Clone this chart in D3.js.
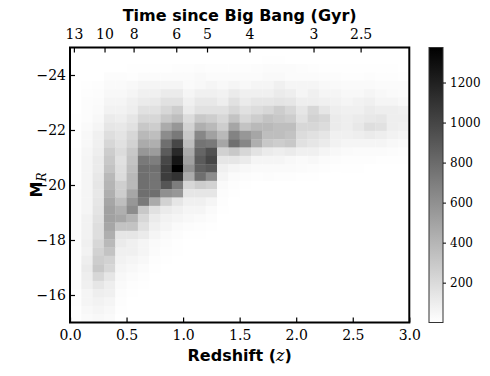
<!DOCTYPE html>
<html>
<head>
<meta charset="utf-8">
<script src="https://cdn.jsdelivr.net/npm/d3@7"></script>
<style>
  html, body { margin: 0; padding: 0; background: #fff; }
  svg { display: block; }
</style>
</head>
<body>
<svg id="chart" width="490" height="376"></svg>
<script>
// ---------- data ----------
// Redshift bins (left edges, width 0.1)
const zBins = [0.0,0.1,0.2,0.3,0.4,0.5,0.6,0.7,0.8,0.9,1.0,1.1,1.2,1.3,1.4,1.5,1.6,1.7,1.8,1.9,2.0,2.1,2.2,2.3,2.4,2.5,2.6,2.7,2.8,2.9];
const zBinWidth = 0.1;
// Magnitude range covered by the 33 rows (top row = brightest)
const magRange = [-25, -15];
const magRowCount = 33;
// Counts per cell: rows from M=-25 (top) down to M=-15, columns follow zBins
const counts = [
  [0,0,0,0,0,0,0,0,0,0,0,0,0,0,0,0,0,0,0,0,0,0,0,0,0,0,0,0,0,0],
  [0,0,0,0,0,0,0,0,3,3,3,3,3,0,3,3,3,5,5,3,3,0,0,0,0,0,0,0,0,0],
  [0,0,0,3,3,5,5,5,8,10,12,15,10,10,12,12,15,20,20,20,15,10,8,8,5,5,8,5,5,3],
  [0,0,3,15,15,10,20,20,25,25,25,35,25,20,25,25,25,35,35,25,25,25,15,15,12,12,15,12,10,8],
  [0,5,10,27,27,38,54,54,54,54,27,38,54,38,54,38,54,54,80,54,54,54,38,35,30,30,27,25,25,20],
  [0,10,15,38,38,54,80,80,107,107,54,80,80,70,107,80,80,80,107,90,54,80,54,54,38,38,54,38,27,25],
  [3,15,20,54,54,80,107,118,161,161,80,124,124,90,161,107,134,134,145,134,90,90,80,70,54,70,80,54,54,38],
  [3,15,27,70,70,91,161,161,215,268,107,161,161,161,215,161,188,215,268,215,134,215,134,91,80,80,107,91,91,80],
  [5,15,38,107,91,134,215,215,295,349,188,295,268,215,322,215,268,322,295,268,161,242,215,107,91,107,124,134,91,91],
  [5,27,54,134,124,161,295,268,456,564,242,430,376,268,483,322,376,376,349,349,215,215,188,107,91,124,177,161,91,80],
  [8,38,80,177,145,215,376,349,618,725,295,645,510,376,671,564,483,349,349,322,188,161,134,80,80,91,107,91,70,54],
  [8,38,80,215,161,242,456,430,779,993,349,752,725,480,779,645,430,295,268,295,161,134,107,70,54,54,54,54,38,30],
  [10,48,91,268,188,295,564,537,886,1155,456,832,940,250,300,215,150,107,91,107,80,80,54,38,27,20,20,20,15,10],
  [10,54,107,295,161,322,725,698,993,1262,510,886,1000,134,134,107,54,54,54,38,27,38,20,15,10,10,10,8,5,5],
  [10,54,107,322,177,349,779,779,1047,1375,590,860,900,80,54,38,27,27,27,27,20,15,10,8,5,5,3,3,0,0],
  [12,54,124,376,188,376,779,752,1047,1100,456,779,620,54,20,15,10,15,10,10,8,5,3,3,0,0,0,0,0,0],
  [15,54,134,400,260,380,779,752,913,700,215,268,242,27,10,5,3,3,3,0,0,0,0,0,0,0,0,0,0,0],
  [20,54,124,430,268,483,779,779,600,564,134,134,134,15,5,3,0,0,0,0,0,0,0,0,0,0,0,0,0,0],
  [20,54,134,483,349,564,725,456,242,134,80,80,54,10,3,0,0,0,0,0,0,0,0,0,0,0,0,0,0,0],
  [20,54,145,510,430,618,295,161,107,80,54,54,27,5,0,0,0,0,0,0,0,0,0,0,0,0,0,0,0,0],
  [20,70,161,510,483,403,215,107,70,54,38,27,15,3,0,0,0,0,0,0,0,0,0,0,0,0,0,0,0,0],
  [20,70,177,483,322,322,170,80,54,27,15,10,5,0,0,0,0,0,0,0,0,0,0,0,0,0,0,0,0,0],
  [20,70,177,430,134,134,107,54,27,15,8,5,0,0,0,0,0,0,0,0,0,0,0,0,0,0,0,0,0,0],
  [15,80,215,376,107,80,54,27,15,8,3,0,0,0,0,0,0,0,0,0,0,0,0,0,0,0,0,0,0,0],
  [15,70,242,322,80,80,54,20,10,5,0,0,0,0,0,0,0,0,0,0,0,0,0,0,0,0,0,0,0,0],
  [15,91,268,242,70,54,38,10,5,0,0,0,0,0,0,0,0,0,0,0,0,0,0,0,0,0,0,0,0,0],
  [15,107,295,215,54,38,20,5,0,0,0,0,0,0,0,0,0,0,0,0,0,0,0,0,0,0,0,0,0,0],
  [15,91,215,134,38,20,10,0,0,0,0,0,0,0,0,0,0,0,0,0,0,0,0,0,0,0,0,0,0,0],
  [15,80,134,91,27,10,5,0,0,0,0,0,0,0,0,0,0,0,0,0,0,0,0,0,0,0,0,0,0,0],
  [10,54,91,80,15,5,0,0,0,0,0,0,0,0,0,0,0,0,0,0,0,0,0,0,0,0,0,0,0,0],
  [10,54,70,54,10,3,0,0,0,0,0,0,0,0,0,0,0,0,0,0,0,0,0,0,0,0,0,0,0,0],
  [5,38,54,38,5,0,0,0,0,0,0,0,0,0,0,0,0,0,0,0,0,0,0,0,0,0,0,0,0,0],
  [5,27,38,27,3,0,0,0,0,0,0,0,0,0,0,0,0,0,0,0,0,0,0,0,0,0,0,0,0,0]
];
// Axis ticks
const zTicks = [0.0, 0.5, 1.0, 1.5, 2.0, 2.5, 3.0];
const magTicks = [-24, -22, -20, -18, -16];
const timeTicks = [13, 10, 8, 6, 5, 4, 3, 2.5];   // Gyr since Big Bang
const colorTicks = [200, 400, 600, 800, 1000, 1200];
const colorDomain = [1, 1375];
// Cosmology used for the top axis (flat LCDM)
const H0 = 70, OmegaM = 0.3;

// ---------- layout ----------
const svg = d3.select("#chart");
const plot = { left: 70, right: 409.3, top: 47.5, bottom: 322.5 };
const cbar = { left: 429, width: 14 };
const SERIF = "'DejaVu Serif', 'Liberation Serif', serif";
const SANS = "'DejaVu Sans', sans-serif";

const x = d3.scaleLinear().domain([0, 3]).range([plot.left, plot.right]);
const y = d3.scaleLinear().domain(magRange).range([plot.top, plot.bottom]);
const color = d3.scaleLinear().domain(colorDomain).range(["#ffffff", "#000000"]).clamp(true);

// age (Gyr) -> redshift
const hubbleTime = 977.8 / H0;
const OmegaL = 1 - OmegaM;
function ageToZ(t) {
  const pre = 2 / (3 * Math.sqrt(OmegaL)) * hubbleTime;
  const s = Math.sinh(t / pre) / Math.sqrt(OmegaL / OmegaM);
  return Math.pow(s, -2 / 3) - 1;
}

// ---------- cells ----------
const magStep = (magRange[1] - magRange[0]) / magRowCount;
const cells = [];
counts.forEach((row, r) => {
  row.forEach((v, c) => {
    if (v > 0) cells.push({ z0: zBins[c], z1: zBins[c] + zBinWidth,
      m0: magRange[0] + r * magStep, m1: magRange[0] + (r + 1) * magStep, v });
  });
});
svg.append("g").selectAll("rect").data(cells).join("rect")
  .attr("x", d => x(d.z0))
  .attr("y", d => y(d.m0))
  .attr("width", d => x(d.z1) - x(d.z0) + 0.3)
  .attr("height", d => y(d.m1) - y(d.m0) + 0.3)
  .attr("fill", d => color(d.v));

// ---------- axes ----------
const axB = svg.append("g").attr("transform", `translate(0,${plot.bottom})`)
  .call(d3.axisBottom(x).tickValues(zTicks).tickFormat(d3.format(".1f")).tickSize(-5).tickPadding(7.5));
const axL = svg.append("g").attr("transform", `translate(${plot.left},0)`)
  .call(d3.axisLeft(y).tickValues(magTicks).tickFormat(d => "\u2212" + Math.abs(d)).tickSize(-5).tickPadding(4));
const axT = svg.append("g").attr("transform", `translate(0,${plot.top})`)
  .call(d3.axisTop(x).tickValues(timeTicks.map(ageToZ)).tickFormat((d, i) => timeTicks[i]).tickSize(-5).tickPadding(9));
[axB, axL, axT].forEach(g => {
  g.attr("font-family", null);
  g.select(".domain").remove();
  g.selectAll(".tick line").attr("stroke", "#000").attr("stroke-width", 1.2);
  g.selectAll(".tick text")
    .style("font-family", SERIF).style("font-size", "14px").style("fill", "#000");
});

// frame
svg.append("rect")
  .attr("x", plot.left).attr("y", plot.top)
  .attr("width", plot.right - plot.left).attr("height", plot.bottom - plot.top)
  .attr("fill", "none").attr("stroke", "#000").attr("stroke-width", 2);

// ---------- labels ----------
const xl = svg.append("text").attr("x", (plot.left + plot.right) / 2).attr("y", 361)
  .attr("text-anchor", "middle")
  .style("font-family", SANS).style("font-weight", "bold").style("font-size", "16px");
xl.append("tspan").text("Redshift (");
xl.append("tspan").text("z").style("font-family", SERIF).style("font-style", "italic").style("font-weight", "normal");
xl.append("tspan").text(")");

svg.append("text").attr("x", (plot.left + plot.right) / 2).attr("y", 21)
  .attr("text-anchor", "middle")
  .style("font-family", SANS).style("font-weight", "bold").style("font-size", "16px")
  .text("Time since Big Bang (Gyr)");

const yl = svg.append("text")
  .attr("transform", `translate(42,${(plot.top + plot.bottom) / 2}) rotate(-90)`)
  .attr("text-anchor", "middle")
  .style("font-family", SANS).style("font-weight", "bold").style("font-size", "16px");
yl.append("tspan").text("M");
yl.append("tspan").text("R").attr("dy", 4)
  .style("font-family", SERIF).style("font-style", "italic").style("font-weight", "normal").style("font-size", "12px");

// ---------- colorbar ----------
const defs = svg.append("defs");
const grad = defs.append("linearGradient").attr("id", "cbgrad")
  .attr("x1", 0).attr("y1", 1).attr("x2", 0).attr("y2", 0);
d3.range(0, 1.0001, 0.1).forEach(t => {
  grad.append("stop").attr("offset", t).attr("stop-color", color(colorDomain[0] + t * (colorDomain[1] - colorDomain[0])));
});
svg.append("rect").attr("x", cbar.left).attr("y", plot.top)
  .attr("width", cbar.width).attr("height", plot.bottom - plot.top)
  .attr("fill", "url(#cbgrad)").attr("stroke", "#333").attr("stroke-width", 1);
const cy = d3.scaleLinear().domain(colorDomain).range([plot.bottom, plot.top]);
const axC = svg.append("g").attr("transform", `translate(${cbar.left + cbar.width},0)`)
  .call(d3.axisRight(cy).tickValues(colorTicks).tickFormat(d3.format("d")).tickSize(3).tickPadding(4));
axC.attr("font-family", null);
axC.select(".domain").remove();
axC.selectAll(".tick line").attr("stroke", "#000");
axC.selectAll(".tick text").style("font-family", SERIF).style("font-size", "12px").style("fill", "#000");
</script>
</body>
</html>
